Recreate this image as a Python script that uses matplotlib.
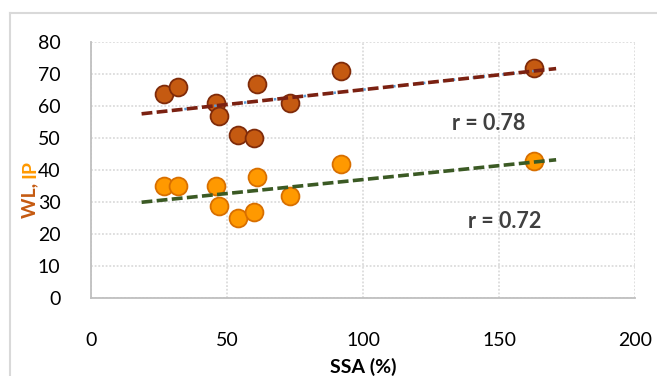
import numpy as np
import matplotlib
matplotlib.use("Agg")
import matplotlib.pyplot as plt
from matplotlib.lines import Line2D

ssa = [27, 32, 46, 47, 54, 60, 61, 73, 92, 163]
wl = [64, 66, 61, 57, 51, 50, 67, 61, 71, 72]
ip = [35, 35, 35, 29, 25, 27, 38, 32, 42, 43]
r_wl = "r = 0.78"
r_ip = "r = 0.72"
xticks = [0, 50, 100, 150, 200]
yticks = [0, 10, 20, 30, 40, 50, 60, 70, 80]

plt.rcParams['font.family'] = ['Lato', 'DejaVu Sans']

fig = plt.figure(figsize=(6.57, 3.76), dpi=100)
ax = fig.add_axes([91/657, 1-298.3/376, (635-91)/657, (298.3-42.3)/376])

x = np.array(ssa, float)
ax.scatter(ssa, wl, s=165, facecolor='#C55A11', edgecolor='#7F2B0A', linewidth=1.3, zorder=3)
ax.scatter(ssa, ip, s=165, facecolor='#FF9900', edgecolor='#D86F00', linewidth=1.3, zorder=3)

# trendlines
xs = np.array([x.min() - 8.4, x.max() + 8.0])
p1 = np.polyfit(x, wl, 1)
p2 = np.polyfit(x, ip, 1)
xb = np.array([x.min(), x.max()])
ax.plot(xb, np.polyval(p1, xb), color='#5B9BD5', lw=1.8, linestyle=(0, (1, 3)), zorder=4)
ax.plot(xs, np.polyval(p1, xs), color='#7B2111', lw=2.6, linestyle=(0, (3.0, 1.2)), zorder=5)
ax.plot(xs, np.polyval(p2, xs), color='#3B5A24', lw=2.6, linestyle=(0, (3.0, 1.2)), zorder=5)

ax.set_xlim(0, 200)
ax.set_ylim(0, 80)
ax.set_xticks(xticks)
ax.set_yticks(yticks)
ax.tick_params(axis='both', length=0, labelsize=14, colors='black')
ax.tick_params(axis='y', pad=22)
ax.tick_params(axis='x', pad=24)
ax.grid(True, color='#D6D6D6', linestyle=(0, (1.2, 1.2)), linewidth=1.1)
ax.set_axisbelow(True)
for s in ['top', 'right']:
    ax.spines[s].set_visible(False)
for s in ['left', 'bottom']:
    ax.spines[s].set_color('#BFBFBF')
    ax.spines[s].set_linewidth(1.3)

fig.text(489/657, 1-123/376, r_wl, ha='center', va='center', fontsize=15.5, fontweight='bold', color='#404040')
fig.text(505/657, 1-221.7/376, r_ip, ha='center', va='center', fontsize=15.5, fontweight='bold', color='#404040')

fig.text(363/657, 1-367/376, "SSA (%)", ha='center', va='center', fontsize=14, fontweight='bold', color='black')

# y label in two colours: "WL, " then "IP", stacked upward
t1 = fig.text(30/657, 1-218/376, "WL, ", rotation=90, ha='center', va='bottom', fontsize=14,
              fontweight='bold', color='#C55A11')
fig.canvas.draw()
bb = t1.get_window_extent(renderer=fig.canvas.get_renderer())
top_px = bb.y1
fig.text(30/657, top_px / fig.bbox.height, "IP", rotation=90, ha='center', va='bottom', fontsize=14,
         fontweight='bold', color='#FF9900')

# chart border
fig.add_artist(Line2D([10/657, 1], [1-13/376, 1-13/376], color='#D9D9D9', lw=1.5, transform=fig.transFigure))
fig.add_artist(Line2D([10/657, 10/657], [0, 1-13/376], color='#D9D9D9', lw=1.5, transform=fig.transFigure))

fig.savefig("out.png", dpi=100)
